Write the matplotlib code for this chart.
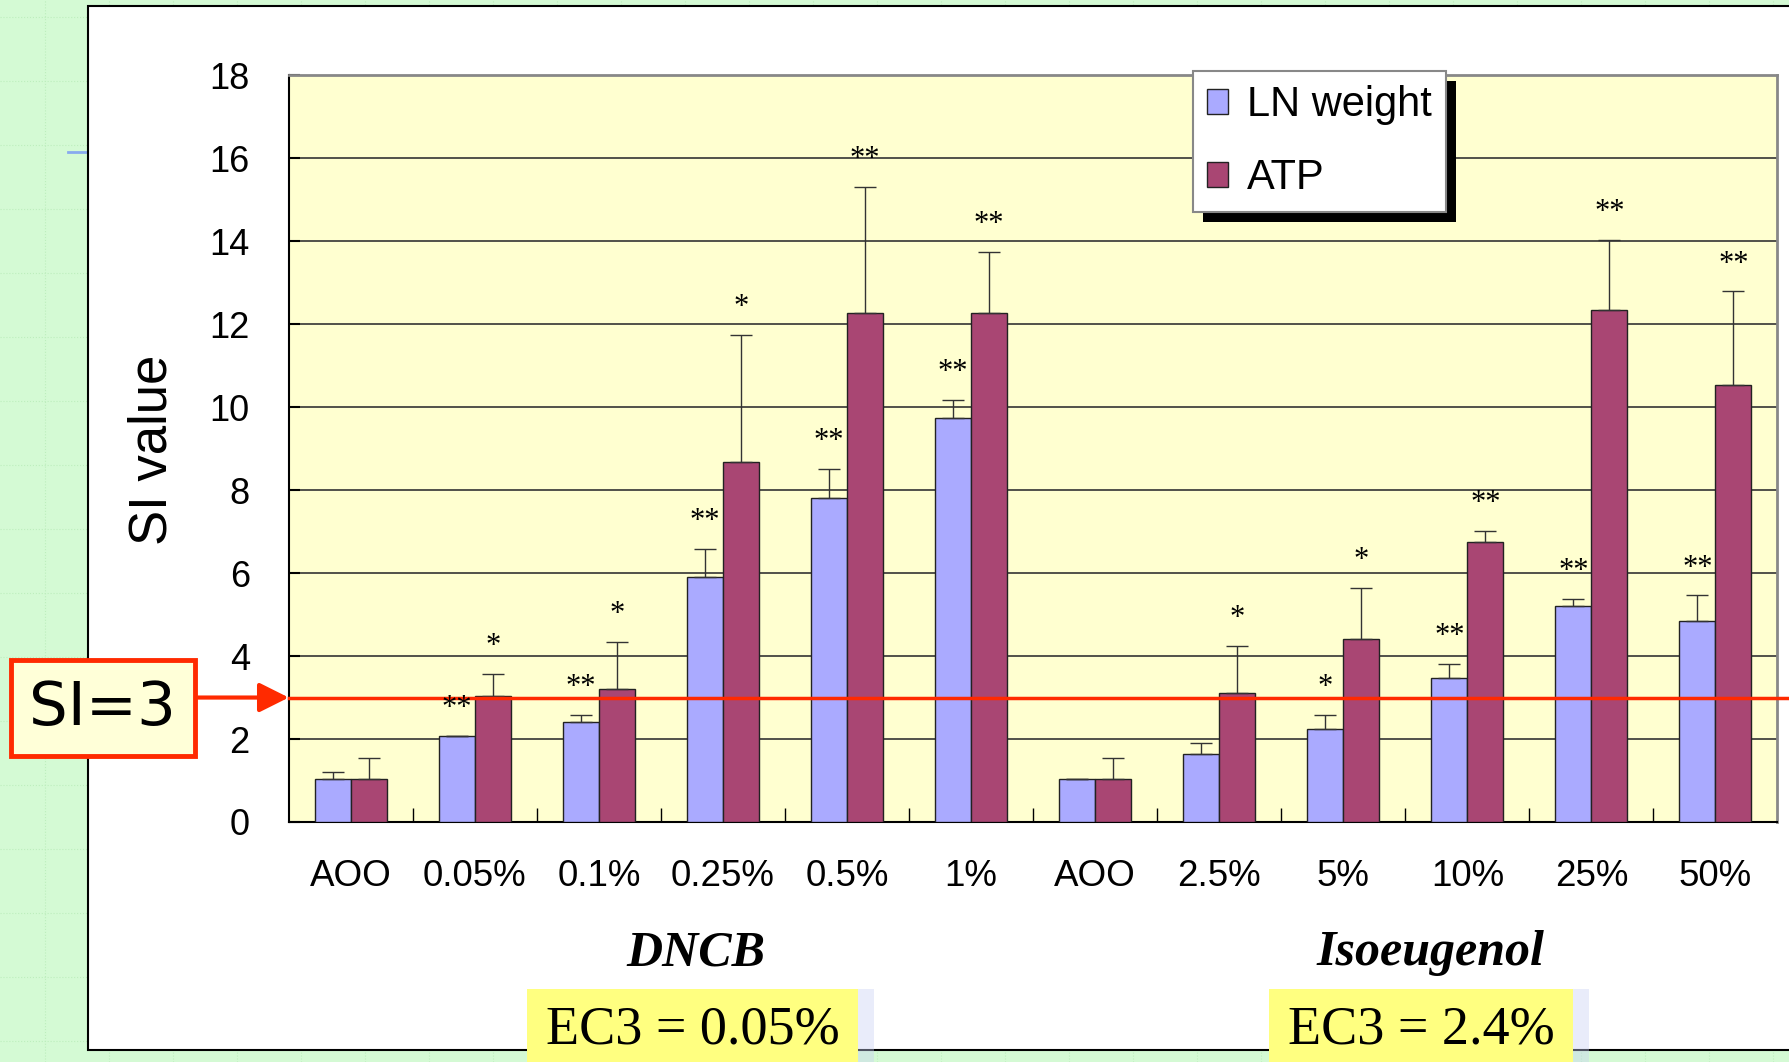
import numpy as np
import matplotlib
matplotlib.use("Agg")
import matplotlib.pyplot as plt
from matplotlib.patches import Rectangle
from matplotlib.lines import Line2D

# --- data ---
categories = ["AOO", "0.05%", "0.1%", "0.25%", "0.5%", "1%",
              "AOO", "2.5%", "5%", "10%", "25%", "50%"]
ln_weight = [1.03, 2.08, 2.42, 5.9, 7.81, 9.74, 1.03, 1.63, 2.25, 3.46, 5.2, 4.85]
ln_err = [0.17, 0.0, 0.16, 0.68, 0.69, 0.44, 0.0, 0.27, 0.33, 0.35, 0.18, 0.61]
atp = [1.03, 3.04, 3.2, 8.68, 12.27, 12.27, 1.03, 3.11, 4.42, 6.76, 12.35, 10.53]
atp_err = [0.52, 0.52, 1.14, 3.06, 3.04, 1.47, 0.52, 1.14, 1.22, 0.26, 1.67, 2.26]
ln_stars = ["", "**", "**", "**", "**", "**", "", "", "*", "**", "**", "**"]
atp_stars = ["", "*", "*", "*", "**", "**", "", "*", "*", "**", "**", "**"]
groups = ["DNCB", "Isoeugenol"]
ec3_labels = ["EC3 = 0.05%", "EC3 = 2.4%"]

BLUE = "#aaaaff"
MAROON = "#a94673"
RED = "#ff2a00"

fig = plt.figure(figsize=(17.9, 10.62), dpi=100)
fig.patch.set_facecolor("#d4fad4")

# faint slide grid in the background
for gy in np.arange(0.02, 1.0, 64 / 1062):
    fig.add_artist(Line2D([0, 1], [gy, gy], color="#bdeebd", lw=0.8,
                          ls=":", zorder=-3))
for gx in np.arange(0.025, 1.0, 64 / 1790):
    fig.add_artist(Line2D([gx, gx], [0, 1], color="#bdeebd", lw=0.8,
                          ls=":", zorder=-3))
fig.add_artist(Line2D([68 / 1790, 88 / 1790], [1 - 152 / 1062] * 2,
                      color="#88aaee", lw=2, zorder=-2))

# white slide frame
fig.add_artist(Rectangle((88 / 1790, 1 - 1050 / 1062), 1.0, 1044 / 1062,
                         transform=fig.transFigure, facecolor="white",
                         edgecolor="black", lw=1.5, zorder=-1))

ax = fig.add_axes([0.1613, 0.2260, 0.8317, 0.7031])
ax.set_facecolor("#ffffd0")

x = np.arange(len(categories)) + 0.5
w = 0.29

b1 = ax.bar(x - w / 2, ln_weight, w, color=BLUE, edgecolor="#222222",
            lw=1, zorder=3, label="LN weight")
b2 = ax.bar(x + w / 2, atp, w, color=MAROON, edgecolor="#222222",
            lw=1, zorder=3, label="ATP")
zeros = np.zeros(len(categories))
ax.errorbar(x - w / 2, ln_weight, yerr=[zeros, ln_err], fmt="none",
            ecolor="#333333", elinewidth=1, capsize=8, capthick=1, zorder=4)
ax.errorbar(x + w / 2, atp, yerr=[zeros, atp_err], fmt="none",
            ecolor="#333333", elinewidth=1, capsize=8, capthick=1, zorder=4)

# significance stars above the error bars
for i in range(len(categories)):
    if ln_stars[i]:
        ax.text(x[i] - w / 2, ln_weight[i] + ln_err[i] + 0.48, ln_stars[i],
                ha="center", va="baseline", fontsize=22,
                family="Liberation Serif", zorder=6)
    if atp_stars[i]:
        ax.text(x[i] + w / 2, atp[i] + atp_err[i] + 0.48, atp_stars[i],
                ha="center", va="baseline", fontsize=22,
                family="Liberation Serif", zorder=6)

ax.set_xlim(0, 12)
ax.set_ylim(0, 18)
ax.set_yticks(range(0, 19, 2))
ax.yaxis.grid(True, color="#333333", lw=1.2)
ax.set_axisbelow(True)
ax.set_xticks(x)
ax.set_xticklabels(categories)
ax.set_xticks(np.arange(1, 12), minor=True)
ax.tick_params(axis="x", which="major", length=0, pad=27, labelsize=26.5)
ax.tick_params(axis="x", which="minor", direction="in", length=10, width=1)
ax.tick_params(axis="y", direction="in", length=8, width=1.5, pad=28,
               labelsize=26)
for lab in ax.get_xticklabels() + ax.get_yticklabels():
    lab.set_family("Liberation Sans")
for s in ["left", "bottom"]:
    ax.spines[s].set_color("black")
    ax.spines[s].set_linewidth(1.5)
for s in ["top", "right"]:
    ax.spines[s].set_color("#888888")
    ax.spines[s].set_linewidth(2)

fig.text(0.085, 0.576, "SI value", rotation=90, fontsize=38,
         family="Liberation Sans", ha="center", va="center")

# SI = 3 threshold: line, boxed label and a horizontal arrow
ax.axhline(3, xmin=0, xmax=1.01, color=RED, lw=2.5, clip_on=False, zorder=5)
fig.text(0.0575, 0.3333, "SI=3", ha="center", va="center", fontsize=44,
         family="DejaVu Sans", zorder=7,
         bbox=dict(boxstyle="square,pad=0.3", fc="#ffffd8", ec=RED, lw=3.5))
ax.annotate("", xy=(0, 3), xycoords=("axes fraction", "data"),
            xytext=(198 / 1790, 3), textcoords=("figure fraction", "data"),
            arrowprops=dict(arrowstyle="-|>", color=RED, lw=3,
                            mutation_scale=45, shrinkA=0, shrinkB=0),
            annotation_clip=False, zorder=6)

# legend with hard black shadow
leg = fig.legend([b1, b2], ["LN weight", "ATP"], loc="upper left",
                 bbox_to_anchor=(0.6665, 0.933), frameon=True, fancybox=False,
                 edgecolor="#888888", facecolor="white", framealpha=1,
                 prop={"family": "Liberation Sans", "size": 30},
                 handlelength=0.5, handleheight=0.55, handletextpad=0.45,
                 labelspacing=0.78, borderpad=0.34, borderaxespad=0)
leg.set_zorder(10)
leg.get_frame().set_linewidth(1.5)
fig.canvas.draw()
bb = leg.get_window_extent().transformed(fig.transFigure.inverted())
fig.add_artist(Rectangle((bb.x0 + 10 / 1790, bb.y0 - 10 / 1062),
                         bb.width, bb.height, transform=fig.transFigure,
                         facecolor="black", edgecolor="none", zorder=9))

# group names and EC3 boxes
group_x = [0.389, 0.799]
box_x = [(527 / 1790, 858 / 1790), (1269 / 1790, 1573 / 1790)]
for gx, name in zip(group_x, groups):
    fig.text(gx, 0.1026, name, fontsize=36, family="Liberation Serif",
             style="italic", weight="bold", ha="center", va="center")
for (x0, x1), lab in zip(box_x, ec3_labels):
    fig.add_artist(Rectangle((x1, -0.01), 16 / 1790, 0.0787,
                             transform=fig.transFigure, facecolor="#c8d0f4",
                             edgecolor="none", alpha=0.4, zorder=1))
    fig.add_artist(Rectangle((x0, -0.01), x1 - x0, 0.0787,
                             transform=fig.transFigure, facecolor="#ffff80",
                             edgecolor="none", zorder=2))
    fig.text((x0 + x1) / 2, 0.030, lab, fontsize=39, family="Liberation Serif",
             ha="center", va="center", zorder=3)

fig.savefig("out.png", dpi=100, facecolor=fig.get_facecolor())
